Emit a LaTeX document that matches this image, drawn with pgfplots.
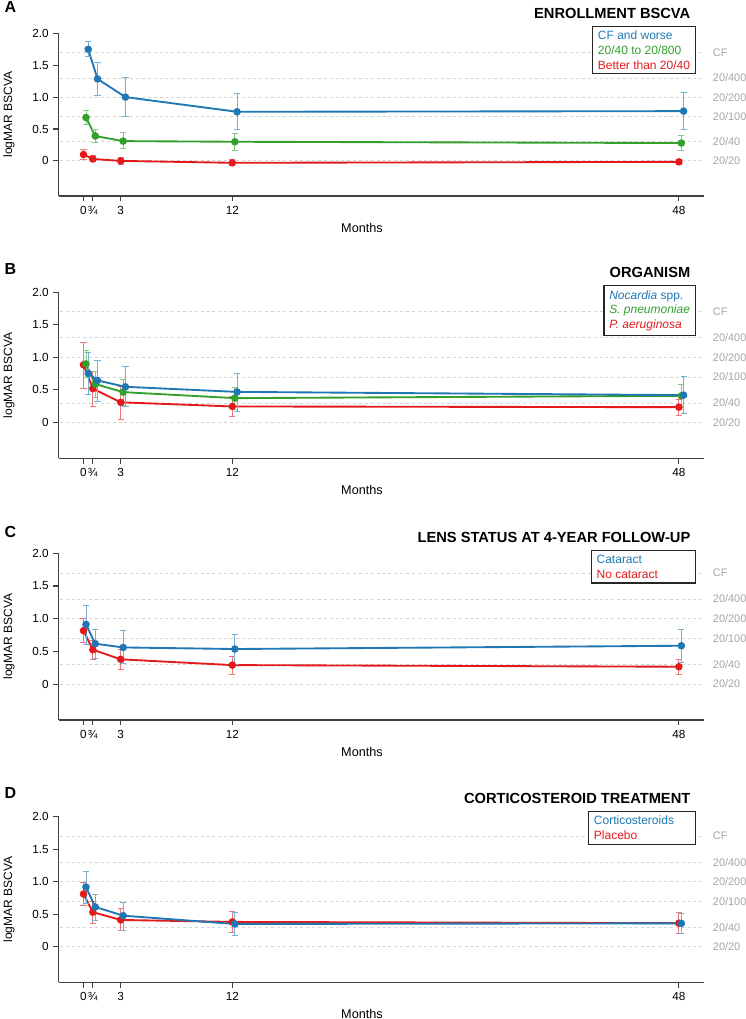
\documentclass[border=0pt]{standalone}
\usepackage{fontspec}
\setmainfont{Liberation Sans}
\usepackage{pgfplots}
\usepackage{pgfplotstable}
\pgfplotsset{compat=1.18}
\definecolor{cblue}{RGB}{31,120,180}
\definecolor{cgreen}{RGB}{51,160,44}
\definecolor{cred}{RGB}{227,26,28}
\definecolor{refgray}{RGB}{165,165,165}
\definecolor{dashgray}{RGB}{210,210,210}

% ---------- data: x  y  ep(plus) em(minus) ----------
% Panel A
\pgfplotstableread{
x y ep em
0.38 1.75 0.115 0.11
1.13 1.285 0.26 0.265
3.38 1.00 0.31 0.30
12.38 0.77 0.28 0.27
48.38 0.78 0.29 0.28
}\Ablue
\pgfplotstableread{
x y ep em
0.2 0.68 0.11 0.11
0.95 0.39 0.11 0.10
3.2 0.31 0.14 0.12
12.2 0.30 0.13 0.13
48.2 0.28 0.12 0.11
}\Agreen
\pgfplotstableread{
x y ep em
0 0.10 0.08 0.07
0.75 0.03 0.06 0.04
3 0.00 0.05 0.05
12 -0.03 0.05 0.04
48 -0.015 0.045 0.035
}\Ared
% Panel B
\pgfplotstableread{
x y ep em
0.38 0.754 0.32 0.32
1.13 0.646 0.30 0.33
3.38 0.548 0.31 0.30
12.38 0.47 0.29 0.30
48.38 0.42 0.28 0.28
}\Bblue
\pgfplotstableread{
x y ep em
0.2 0.90 0.20 0.21
0.95 0.59 0.19 0.21
3.2 0.466 0.19 0.20
12.2 0.374 0.17 0.17
48.2 0.41 0.18 0.18
}\Bgreen
\pgfplotstableread{
x y ep em
0 0.886 0.35 0.36
0.75 0.52 0.27 0.27
3 0.31 0.25 0.26
12 0.246 0.15 0.16
48 0.235 0.12 0.13
}\Bred
% Panel C
\pgfplotstableread{
x y ep em
0.2 0.913 0.29 0.30
0.95 0.617 0.22 0.23
3.2 0.56 0.26 0.25
12.2 0.536 0.23 0.23
48.2 0.586 0.25 0.26
}\Cblue
\pgfplotstableread{
x y ep em
0 0.816 0.18 0.18
0.75 0.525 0.14 0.155
3 0.378 0.15 0.15
12 0.29 0.13 0.14
48 0.265 0.105 0.115
}\Cred
% Panel D
\pgfplotstableread{
x y ep em
0.2 0.916 0.245 0.245
0.95 0.61 0.20 0.21
3.2 0.476 0.21 0.23
12.2 0.348 0.17 0.17
48.2 0.358 0.155 0.16
}\Dblue
\pgfplotstableread{
x y ep em
0 0.81 0.18 0.18
0.75 0.53 0.17 0.18
3 0.41 0.17 0.165
12 0.38 0.16 0.17
48 0.36 0.16 0.16
}\Dred

\pgfplotsset{
 panel/.style={
  scale only axis, width=483.75pt,
  anchor=south west,
  xmin=-2, xmax=50, ymin=-0.55, ymax=2,
  axis x line*=bottom, axis y line*=left,
  axis line style={-, draw=black!75, line width=0.8pt},
  xtick={0,0.75,3,12,48}, xticklabels={0,¾,3,12,48},
  ytick={0,0.5,1,1.5,2}, yticklabels={0,0.5,1.0,1.5,2.0},
  tick align=outside, major tick length=4pt,
  tick style={draw=black!75, line width=0.8pt},
  ticklabel style={font=\fontsize{8.8}{10}\selectfont},
  /pgf/number format/assume math mode=true,
  clip=false,
 },
 ser/.style={color=#1, line width=1.4pt, mark=*, mark size=2.1pt,
   mark options={fill=#1, draw=#1, solid},
   error bars/.cd, y dir=both, y explicit,
   error bar style={draw=#1!60!white, line width=0.7pt},
   error mark options={rotate=90, draw=#1!60!white, line width=0.7pt, mark size=2.3pt}},
 refl/.style={dashgray, dash pattern=on 2.2pt off 2.2pt, line width=0.6pt, forget plot},
}
\tikzset{
 rl/.style={anchor=west, text=refgray, font=\fontsize{8.2}{10}\selectfont, xshift=3.4pt},
 letter/.style={anchor=west, font=\bfseries\fontsize{12}{14}\selectfont},
 ttl/.style={anchor=east, font=\bfseries\fontsize{11}{13}\selectfont},
 leg/.style={draw=black!85, line width=1pt, fill=white, anchor=north east, align=left,
   inner xsep=4pt, inner ysep=3.5pt, font=\fontsize{9}{11}\selectfont},
 ylab/.style={rotate=90, font=\fontsize{9}{11}\selectfont},
 xlab/.style={font=\fontsize{9.5}{11}\selectfont},
}

\newcommand{\reflines}{%
  \pgfplotsinvokeforeach{0,0.3,0.7,1,1.3,1.7}{\addplot[refl] coordinates {(-1.9,##1) (50.1,##1)};}
  \node[rl] at (axis cs:50,1.7) {CF};
  \node[rl] at (axis cs:50,1.3) {20/400};
  \node[rl] at (axis cs:50,1.0) {20/200};
  \node[rl] at (axis cs:50,0.7) {20/100};
  \node[rl] at (axis cs:50,0.3) {20/40};
  \node[rl] at (axis cs:50,0.0) {20/20};
}
\newcommand{\series}[2]{\addplot[ser=#1] table[x=x,y=y,y error plus=ep,y error minus=em] {#2};}

\begin{document}
\begin{tikzpicture}[x=0.75pt,y=0.75pt]
\useasboundingbox (0,0) rectangle (745,1019);
\coordinate (pA) at (58.7,823);
\coordinate (pB) at (58.7,560.7);
\coordinate (pC) at (58.7,299);
\coordinate (pD) at (58.7,36.7);

% ================= Panel A =================
\begin{axis}[panel, height=122pt, at={(pA)}]
\reflines
\series{cred}{\Ared}
\series{cgreen}{\Agreen}
\series{cblue}{\Ablue}
\end{axis}
\node[letter] at (0,1012) {A};
\node[ttl] at (695,1006) {ENROLLMENT BSCVA};
\node[leg] at (696,993.3) {\textcolor{cblue}{CF and worse}\\\textcolor{cgreen}{20/40 to 20/800}\\\textcolor{cred}{Better than 20/40}};
\node[ylab] at (9,904.3) {logMAR BSCVA};
\node[xlab] at (362,791.3) {Months};

% ================= Panel B =================
\begin{axis}[panel, height=124.5pt, at={(pB)}]
\reflines
\series{cred}{\Bred}
\series{cgreen}{\Bgreen}
\series{cblue}{\Bblue}
\end{axis}
\node[letter] at (0,750) {B};
\node[ttl] at (695,746.3) {ORGANISM};
\node[leg] at (696,734) {\textcolor{cblue}{\textit{Nocardia} spp.}\\\textcolor{cgreen}{\textit{S. pneumoniae}}\\\textcolor{cred}{\textit{P. aeruginosa}}};
\node[ylab] at (9,643.7) {logMAR BSCVA};
\node[xlab] at (362,529.2) {Months};

% ================= Panel C =================
\begin{axis}[panel, height=125pt, at={(pC)}]
\reflines
\series{cred}{\Cred}
\series{cblue}{\Cblue}
\end{axis}
\node[letter] at (0,487) {C};
\node[ttl] at (695,481.3) {LENS STATUS AT 4-YEAR FOLLOW-UP};
\node[leg] at (696,469) {\textcolor{cblue}{Cataract}\hspace*{36pt}\\\textcolor{cred}{No cataract}};
\node[ylab] at (9,382.3) {logMAR BSCVA};
\node[xlab] at (362,267.5) {Months};

% ================= Panel D =================
\begin{axis}[panel, height=124.2pt, at={(pD)}]
\reflines
\series{cred}{\Dred}
\series{cblue}{\Dblue}
\end{axis}
\node[letter] at (0,226) {D};
\node[ttl] at (695,221) {CORTICOSTEROID TREATMENT};
\node[leg] at (696,208.3) {\textcolor{cblue}{Corticosteroids}\hspace*{12pt}\\\textcolor{cred}{Placebo}};
\node[ylab] at (9,119.5) {logMAR BSCVA};
\node[xlab] at (362,5.5) {Months};
\end{tikzpicture}
\end{document}
